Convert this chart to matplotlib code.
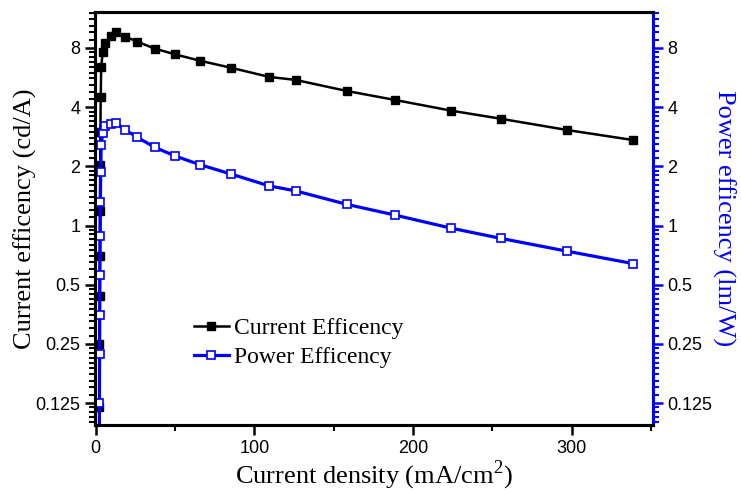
import numpy as np
import matplotlib
matplotlib.use('Agg')
import matplotlib.pyplot as plt
from matplotlib.ticker import FixedLocator, LogLocator, NullFormatter, MultipleLocator

plt.rcParams['font.family'] = 'Liberation Sans'
plt.rcParams['mathtext.fontset'] = 'custom'
plt.rcParams['mathtext.rm'] = 'Liberation Serif'

# current density (mA/cm2)
density = [2.3, 2.4, 2.5, 2.6, 2.7, 2.9, 3.0, 3.2, 3.5, 4.5, 6.2, 9.4, 13.1, 18.8,
           26.2, 37.2, 49.8, 65.6, 85, 109.3, 126, 158.4, 188.6, 223.8, 255.3, 297, 338.6]
# current efficiency (cd/A)
current_eff = [0.12, 0.25, 0.44, 0.70, 1.18, 2.03, 3.0, 4.52, 6.43, 7.62, 8.5, 9.21, 9.61, 9.13,
               8.61, 7.94, 7.43, 6.89, 6.35, 5.70, 5.50, 4.83, 4.35, 3.84, 3.49, 3.06, 2.72]
# power efficiency (lm/W)
power_eff = [0.06, 0.125, 0.222, 0.35, 0.56, 0.88, 1.32, 1.88, 2.57, 2.94, 3.22, 3.27, 3.31, 3.06,
             2.81, 2.50, 2.26, 2.04, 1.83, 1.59, 1.50, 1.28, 1.13, 0.97, 0.86, 0.74, 0.64]

yticks = [0.125, 0.25, 0.5, 1, 2, 4, 8]
ytick_labels = ['0.125', '0.25', '0.5', '1', '2', '4', '8']
ylim = (0.0966, 12.2)
blue = '#0000ff'

fig = plt.figure(figsize=(7.41, 4.96), dpi=100)
ax = fig.add_axes([0.128, 0.143, 0.753, 0.833])
ax2 = ax.twinx()

l1, = ax.plot(density, current_eff, '-s', color='black', lw=1.8, ms=6,
              mfc='black', mec='black', label='Current Efficency')
l2, = ax2.plot(density, power_eff, '-s', color=blue, lw=2.3, ms=6,
               mfc='white', mec=blue, mew=1.2, label='Power Efficency')

for a in (ax, ax2):
    a.set_yscale('log', base=2)
    a.set_ylim(*ylim)
    a.yaxis.set_major_locator(FixedLocator(yticks))
    a.set_yticklabels(ytick_labels)
    a.yaxis.set_minor_locator(LogLocator(base=2, subs=np.arange(1.1, 2.0, 0.1)))
    a.yaxis.set_minor_formatter(NullFormatter())

ax.set_xlim(-0.5, 351)
ax.xaxis.set_major_locator(MultipleLocator(100))
ax.xaxis.set_minor_locator(MultipleLocator(50))

ax.tick_params(axis='both', which='major', labelsize=13, direction='out', width=1.8, length=7)
ax.tick_params(axis='both', which='minor', direction='out', width=1.5, length=4)
# top ticks point inward
ax2.tick_params(axis='x', which='major', top=True, bottom=False, labeltop=False,
                labelbottom=False, direction='in', width=1.8, length=6)
ax2.tick_params(axis='x', which='minor', top=True, bottom=False, direction='in', width=1.5, length=4)
ax2.tick_params(axis='y', which='major', labelsize=13, direction='out', width=1.8, length=7,
                color=blue, labelcolor='black')
ax2.tick_params(axis='y', which='minor', direction='out', width=1.5, length=4, color=blue)

for s in ax.spines.values():
    s.set_linewidth(2.2)
for s in ax2.spines.values():
    s.set_linewidth(2.2)
ax2.spines['right'].set_color(blue)

ax.set_xlabel('Current density (mA/cm$^{2}$)', family='Liberation Serif', fontsize=19)
ax.xaxis.set_label_coords(0.5, -0.082)
ax.set_ylabel('Current efficency (cd/A)', family='Liberation Serif', fontsize=19, va='center')
ax.yaxis.set_label_coords(-0.125, 0.5)
ax2.set_ylabel('Power efficency (lm/W)', family='Liberation Serif', fontsize=19,
               color=blue, rotation=-90, va='center')
ax2.yaxis.set_label_coords(1.127, 0.5)

leg = ax.legend([l1, l2], ['Current Efficency', 'Power Efficency'], loc='lower left',
                bbox_to_anchor=(0.139, 0.087), frameon=False, handlelength=1.5, handletextpad=0.2,
                labelspacing=0.3, prop={'family': 'Liberation Serif', 'size': 17})

fig.savefig('out.png', dpi=100)
